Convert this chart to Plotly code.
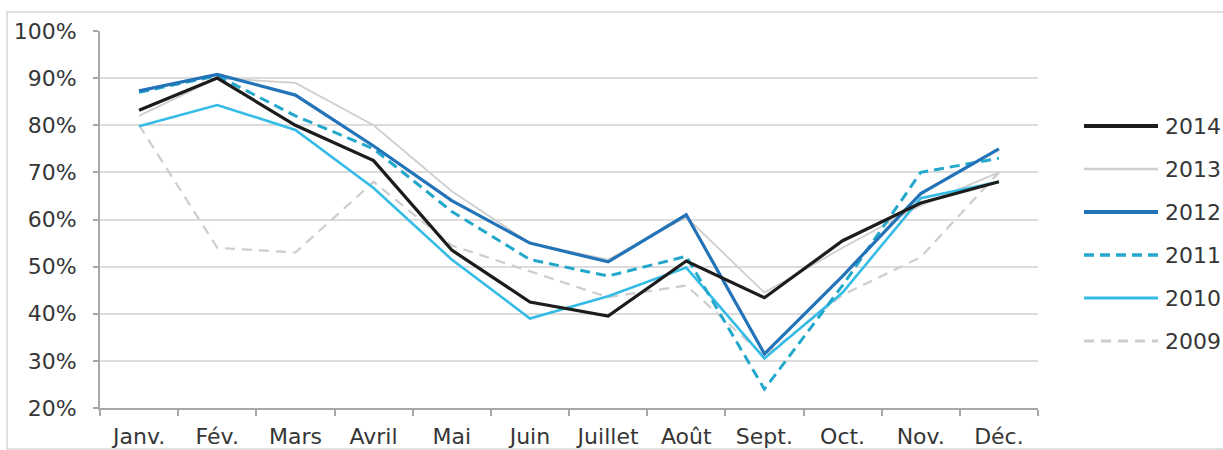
import plotly.graph_objects as go

months = ["Janv.", "Fév.", "Mars", "Avril", "Mai", "Juin", "Juillet", "Août", "Sept.", "Oct.", "Nov.", "Déc."]

y2014 = [83.2, 90.0, 80.0, 72.5, 53.5, 42.5, 39.5, 51.2, 43.4, 55.5, 63.5, 68.0]
y2013 = [82.0, 90.0, 89.0, 80.0, 66.0, 55.0, 51.5, 60.5, 44.5, 54.0, 63.0, 70.0]
y2012 = [87.3, 90.8, 86.4, 75.6, 64.0, 55.0, 51.0, 61.0, 31.5, 48.0, 65.5, 75.0]
y2011 = [87.0, 90.5, 82.0, 75.0, 61.7, 51.5, 48.0, 52.2, 24.0, 46.0, 70.0, 73.0]
y2010 = [79.8, 84.3, 79.0, 66.7, 51.5, 39.0, 43.7, 49.8, 30.5, 44.5, 64.5, 68.0]
y2009 = [80.0, 54.0, 53.0, 68.0, 54.5, 49.0, 43.5, 46.0, 31.0, 44.0, 52.0, 70.0]

series_names = ["2014", "2013", "2012", "2011", "2010", "2009"]
series_values = [y2014, y2013, y2012, y2011, y2010, y2009]
styles = [
    dict(color="#1c1c1c", width=3.2, dash="solid"),
    dict(color="#cfcfcf", width=1.8, dash="solid"),
    dict(color="#2273b8", width=3.2, dash="solid"),
    dict(color="#23a8cc", width=3.0, dash="10px,6px"),
    dict(color="#35bce6", width=2.6, dash="solid"),
    dict(color="#cdcdcd", width=2.2, dash="10px,7px"),
]
draw_order = [5, 1, 4, 3, 2, 0]

fig = go.Figure()
for i in draw_order:
    fig.add_trace(go.Scatter(x=months, y=series_values[i], mode="lines",
                             name=series_names[i], line=styles[i], showlegend=False))

font_family = "DejaVu Sans, Verdana, sans-serif"
txt_color = "#363636"
fsize = 22

# manual legend (long line samples like the original)
PL, PR, PT, PB = 100, 1038, 31, 408
W, H = 1223, 450
def px_x(px):
    return (px - PL) / (PR - PL)
def px_y(py):
    return (PB - py) / (PB - PT)

shapes = []
annotations = []
for k, name in enumerate(series_names):
    yc = 126 + 43 * k
    st = styles[k]
    shapes.append(dict(type="line", xref="paper", yref="paper",
                       x0=px_x(1084), x1=px_x(1158), y0=px_y(yc), y1=px_y(yc),
                       line=dict(color=st["color"], width=st["width"] + 0.6, dash=st["dash"])))
    annotations.append(dict(xref="paper", yref="paper", x=px_x(1163), y=px_y(yc),
                            xanchor="left", yanchor="middle", showarrow=False, text=name,
                            font=dict(family=font_family, size=fsize, color=txt_color)))

# outer chart border
shapes.append(dict(type="rect", xref="paper", yref="paper",
                   x0=px_x(7), x1=px_x(1300), y0=px_y(449), y1=px_y(12),
                   line=dict(color="#d6d6d6", width=1.5), layer="below"))

fig.update_layout(
    width=W, height=H,
    margin=dict(l=PL, r=W - PR, t=PT, b=H - PB, autoexpand=False),
    paper_bgcolor="white", plot_bgcolor="white",
    font=dict(family=font_family, size=fsize, color=txt_color),
    shapes=shapes, annotations=annotations,
    showlegend=False,
)
fig.update_xaxes(
    type="category", range=[-0.5, 11.5], automargin=False,
    showline=True, linecolor="#a8a8a8", linewidth=2,
    ticks="outside", ticklen=6, tickcolor="#a8a8a8", tickwidth=1.5,
    tickson="boundaries", showgrid=False,
    tickfont=dict(family=font_family, size=fsize, color=txt_color),
    ticklabelstandoff=8,
)
fig.update_yaxes(
    range=[20, 100], dtick=10, ticksuffix="%", automargin=False,
    showline=True, linecolor="#a8a8a8", linewidth=2,
    ticks="outside", ticklen=5, tickcolor="#a8a8a8", tickwidth=1.5,
    showgrid=True, gridcolor="#dcdcdc", gridwidth=1.5,
    zeroline=False,
    tickfont=dict(family=font_family, size=fsize, color=txt_color),
    ticklabelstandoff=12,
)

fig.write_html("out.html")
